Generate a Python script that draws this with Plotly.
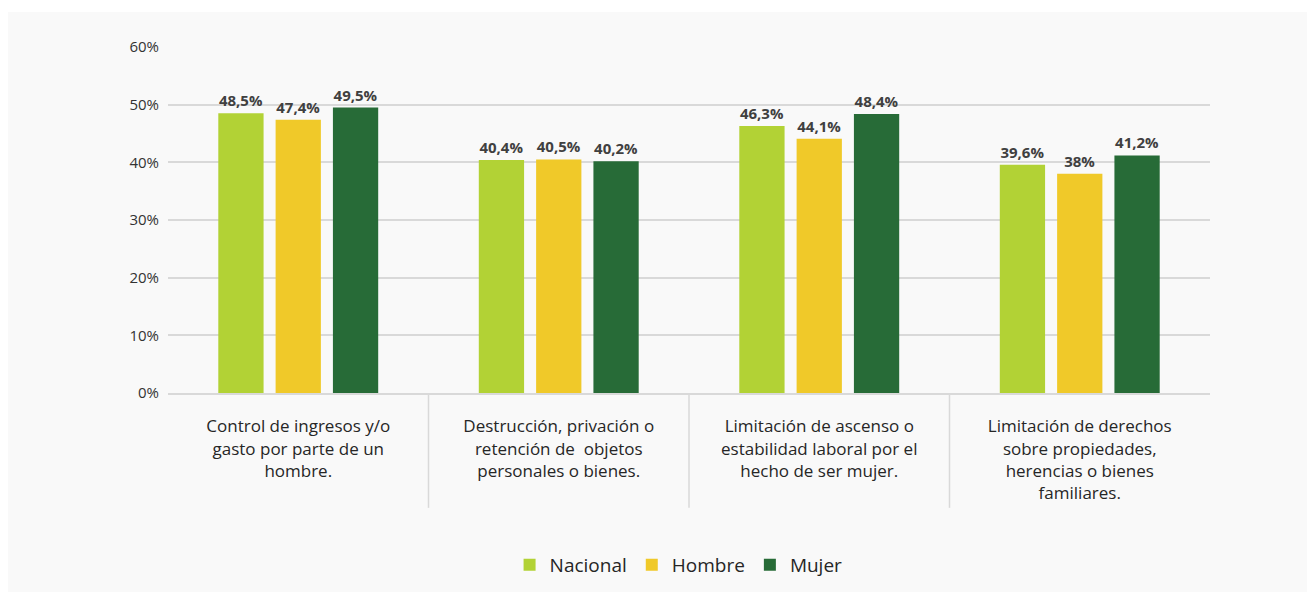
import plotly.graph_objects as go

categories = [
    "Control de ingresos y/o<br>gasto por parte de un<br>hombre.",
    "Destrucción, privación o<br>retención de  objetos<br>personales o bienes.",
    "Limitación de ascenso o<br>estabilidad laboral por el<br>hecho de ser mujer.",
    "Limitación de derechos<br>sobre propiedades,<br>herencias o bienes<br>familiares.",
]
nacional = [48.5, 40.4, 46.3, 39.6]
hombre = [47.4, 40.5, 44.1, 38.0]
mujer = [49.5, 40.2, 48.4, 41.2]
series_names = ["Nacional", "Hombre", "Mujer"]
colors = ["#b2d235", "#f0c929", "#276b37"]
ytick_vals = [0, 10, 20, 30, 40, 50, 60]
ytick_text = ["0%", "10%", "20%", "30%", "40%", "50%", "60%"]

FONT = "Open Sans"


def fmt(v):
    return (f"{v:g}%").replace(".", ",")


fig = go.Figure()
for name, vals, col in zip(series_names, [nacional, hombre, mujer], colors):
    fig.add_trace(go.Bar(
        name=name,
        x=categories,
        y=vals,
        marker=dict(color=col, line=dict(width=0)),
        text=[fmt(v) for v in vals],
        textposition="outside",
        textfont=dict(family=FONT, size=15, color="#404040", weight="bold"),
        cliponaxis=False,
        hoverinfo="skip",
    ))

shapes = [
    dict(type="rect", xref="paper", yref="paper", x0=-0.1536, x1=1.094,
         y0=-0.575, y1=1.101, fillcolor="#f9f9f9", line=dict(width=0), layer="below"),
]
for i in range(len(categories) - 1):
    shapes.append(dict(type="line", xref="x", yref="paper", x0=i + 0.5, x1=i + 0.5,
                       y0=0, y1=-0.332, line=dict(color="#d9d9d9", width=1.5)))

fig.update_layout(
    width=1315, height=596,
    margin=dict(l=160, r=113, t=39, b=211),
    paper_bgcolor="white",
    plot_bgcolor="rgba(0,0,0,0)",
    barmode="group",
    bargap=0.34,
    bargroupgap=0.21,
    font=dict(family=FONT, color="#333333"),
    shapes=shapes,
    showlegend=True,
    legend=dict(orientation="h", x=0.49, xanchor="center", y=-0.497, yanchor="middle",
                font=dict(family=FONT, size=19, color="#262626"),
                itemwidth=30, traceorder="normal", bgcolor="rgba(0,0,0,0)"),
    xaxis=dict(
        tickfont=dict(family=FONT, size=17, color="#262626"),
        showline=True, linecolor="#d9d9d9", linewidth=2,
        ticks="", showgrid=False,
        ticklabelstandoff=17,
    ),
    yaxis=dict(
        range=[0, 60],
        tickmode="array",
        tickvals=ytick_vals,
        ticktext=ytick_text,
        tickfont=dict(family=FONT, size=15, color="#333333"),
        showgrid=True, gridcolor="#d9d9d9", gridwidth=1.5,
        zeroline=False, showline=False,
        ticklabelstandoff=8,
    ),
)

fig.write_html("out.html")
